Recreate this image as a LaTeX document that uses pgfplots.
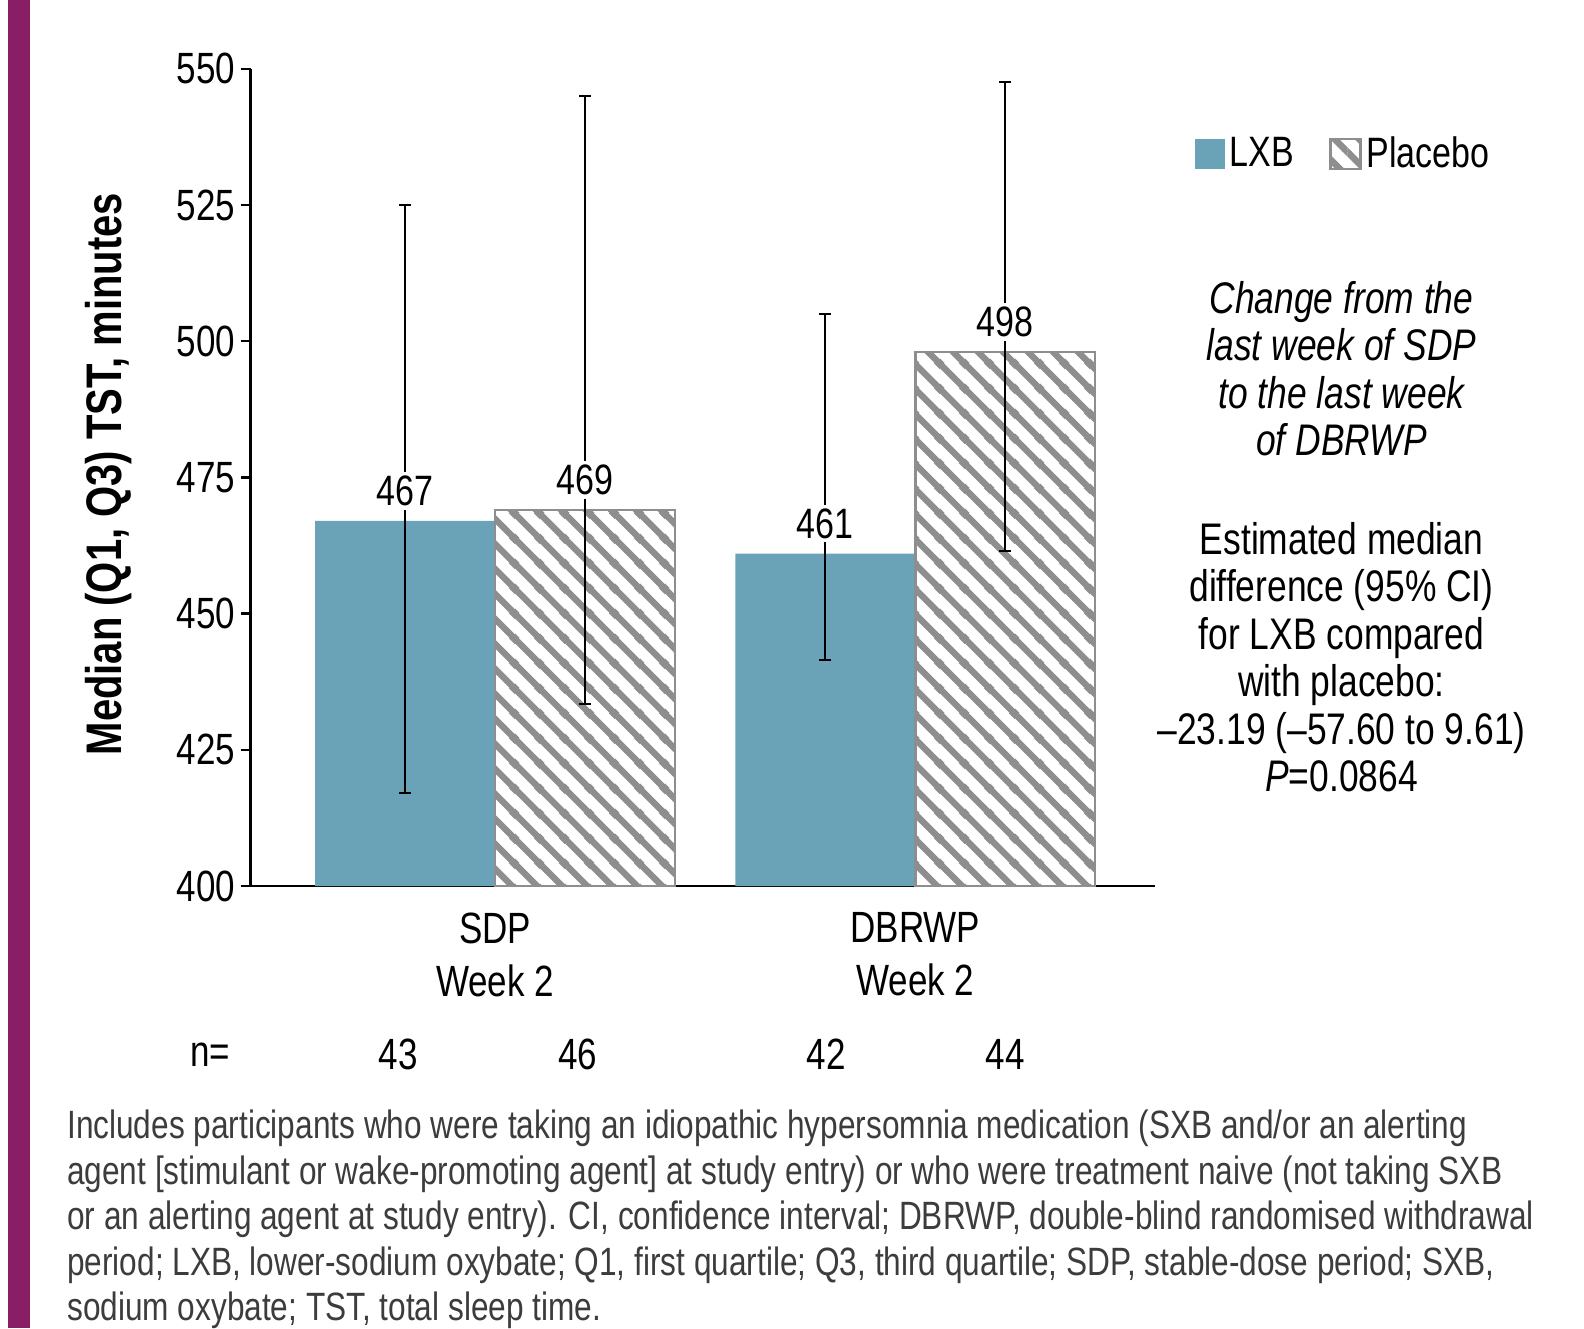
\documentclass[border=0pt]{standalone}
\usepackage{fontspec}
\setmainfont{Liberation Sans}[FakeStretch=0.80]
\usepackage{pgfplots}
\pgfplotsset{compat=1.18}
\usetikzlibrary{patterns}
\definecolor{lxb}{RGB}{106,163,184}
\definecolor{hatchgray}{RGB}{142,142,142}
\definecolor{sidebar}{RGB}{138,30,100}
\definecolor{foot}{RGB}{60,60,60}
\pgfdeclarepatternformonly{hatch}{\pgfqpoint{0pt}{0pt}}{\pgfqpoint{9.8pt}{9.8pt}}{\pgfqpoint{9.8pt}{9.8pt}}{%
  \pgfsetlinewidth{2.6pt}%
  \pgfpathmoveto{\pgfqpoint{-2pt}{11.8pt}}\pgfpathlineto{\pgfqpoint{11.8pt}{-2pt}}%
  \pgfpathmoveto{\pgfqpoint{-2pt}{2pt}}\pgfpathlineto{\pgfqpoint{2pt}{-2pt}}%
  \pgfpathmoveto{\pgfqpoint{7.8pt}{11.8pt}}\pgfpathlineto{\pgfqpoint{11.8pt}{7.8pt}}%
  \pgfusepath{stroke}}
\begin{document}
\begin{tikzpicture}
\path[use as bounding box] (0,0) rectangle (633.6pt,-531.2pt);
\fill[sidebar] (3.2pt,0) rectangle (12.1pt,-531.2pt);
\begin{axis}[
  at={(100.2pt,-354.4pt)}, anchor=south west,
  scale only axis, width=361.7pt, height=326.9pt,
  xmin=-0.582, xmax=1.570, ymin=400, ymax=550,
  axis x line=bottom, axis y line=left,
  axis line style={-, line width=1pt},
  ytick={400,425,450,475,500,525,550},
  xtick={0,1}, xticklabels={{SDP\\Week 2},{DBRWP\\Week 2}},
  x tick style={draw=none},
  y tick style={line width=1pt, black},
  tick align=outside, major tick length=4pt,
  /pgf/number format/assume math mode=true,
  yticklabel style={font=\fontsize{17.5}{20}\selectfont, inner sep=2pt},
  xticklabel style={align=center, font=\fontsize{17.5}{21.2}\selectfont, yshift=-3.2pt},
  ylabel={Median (Q1, Q3) TST, minutes},
  ylabel style={font=\fontsize{20}{22}\bfseries, at={(axis description cs:-0.1565,0.504)}, anchor=center},
  ybar, bar width=0.428,
  clip=false,
  legend style={at={(axis description cs:1.0437,0.896)}, anchor=west, draw=none, inner sep=0pt,
     font=\fontsize{17}{20}\selectfont, legend columns=2,
     /tikz/every even column/.append style={column sep=12pt}},
  legend image code/.code={\draw[#1] (0pt,-6pt) rectangle (12pt,6pt);},
  nodes near coords,
  every node near coord/.append style={font=\fontsize{17}{20}\selectfont, anchor=center, yshift=12.1pt, fill=white, inner sep=1.5pt, text=black, draw=none},
  error bars/y dir=both, error bars/y explicit,
  error bars/error bar style={draw=black, line width=0.8pt, solid},
  error bars/error mark options={draw=black, rotate=90, mark size=2.4pt, line width=0.8pt},
]
\addplot[bar shift=0pt, fill=lxb, draw=none,
  legend image code/.code={\fill[lxb] (0pt,-6pt) rectangle (12pt,6pt);}] coordinates {
  (-0.214,467) += (0,58) -= (0,50)
  (0.786,461) += (0,44) -= (0,19.5)
};
\addplot[bar shift=0pt, draw=hatchgray, line width=1pt, pattern=hatch, pattern color=hatchgray] coordinates {
  (0.214,469) += (0,76) -= (0,35.5)
  (1.214,498) += (0,49.5) -= (0,36.5)
};
\legend{LXB,Placebo}
\end{axis}
\begin{scope}[every node/.style={font=\fontsize{17.5}{20}\selectfont}]
\node at (84pt,-421.8pt) {n=};
\node at (159.2pt,-421.8pt) {43};
\node at (231.1pt,-421.8pt) {46};
\node at (330.5pt,-421.8pt) {42};
\node at (402.0pt,-421.8pt) {44};
\end{scope}
\node[align=center, font=\fontsize{17.7}{19}\selectfont\itshape] at (536.6pt,-147.5pt)
  {Change from the\\last week of SDP\\to the last week\\of DBRWP};
\node[align=center, font=\fontsize{17.7}{19}\selectfont] at (536.6pt,-262.8pt)
  {Estimated median\\difference (95\% CI)\\for LXB compared\\with placebo:\\--23.19 (--57.60 to 9.61)\\\textit{P}=0.0864};
\node[anchor=north west, inner sep=0pt, align=left, text=foot, font=\fontsize{15.8}{18.2}\selectfont] at (26.7pt,-443.9pt)
  {Includes participants who were taking an idiopathic hypersomnia medication (SXB and/or an alerting\\
   agent [stimulant or wake-promoting agent] at study entry) or who were treatment naive (not taking SXB\\
   or an alerting agent at study entry). CI, confidence interval; DBRWP, double-blind randomised withdrawal\\
   period; LXB, lower-sodium oxybate; Q1, first quartile; Q3, third quartile; SDP, stable-dose period; SXB,\\
   sodium oxybate; TST, total sleep time.};
\end{tikzpicture}
\end{document}
